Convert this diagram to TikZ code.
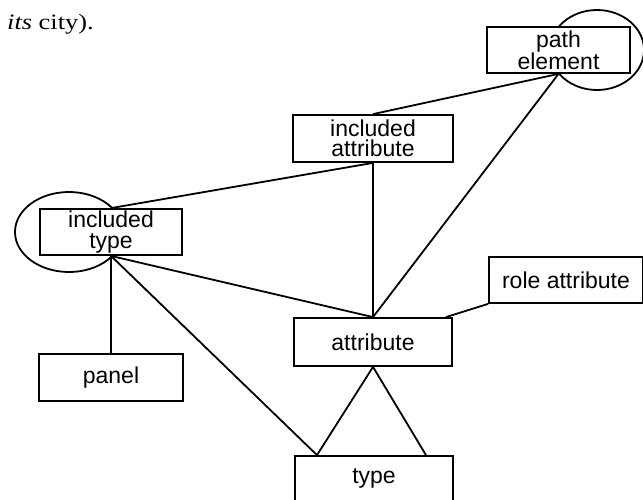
\documentclass[tikz,border=0pt]{standalone}
\usepackage{fontspec}
\usepackage{graphicx}
\setmainfont{Liberation Serif}
\newfontfamily\labelfont{Liberation Sans}
\usetikzlibrary{calc}
\tikzset{
  box/.style={draw, fill=white, line width=1.8pt, inner sep=0pt, align=center,
    font=\labelfont\fontsize{23}{20.5}\selectfont},
  link/.style={line width=1.8pt},
  loopring/.style={line width=1.8pt},
}
\begin{document}
\begin{tikzpicture}[x=1pt,y=-1pt]
\useasboundingbox (0,0) rectangle (643,499);
\clip (0,0) rectangle (643,499);
\node[anchor=base west, inner sep=0pt, font=\fontsize{22}{26}\selectfont] (cap) at (7,29) {\scalebox{1.2}[1]{\textit{its} city).}};
% self-loops
\draw[loopring] (69,232) ellipse [x radius=54, y radius=40];
\draw[loopring] (597,50) ellipse [x radius=47, y radius=40];
% boxes
\node[box, minimum width=143pt, minimum height=46pt] (pe) at (558.5,50) {path\\element};
\node[box, minimum width=160pt, minimum height=47pt] (ia) at (373,138.5) {included\\attribute};
\node[box, minimum width=142pt, minimum height=46pt] (it) at (111,232) {included\\type};
\node[box, minimum width=158pt, minimum height=48pt] (at) at (373,342) {attribute};
\node[box, minimum width=154pt, minimum height=46pt] (ra) at (566,280) {role attribute};
\node[box, minimum width=144pt, minimum height=47pt] (pa) at (111,377.5) {panel};
\node[box, minimum width=158pt, minimum height=46pt] (ty) at (374,479) {\strut type};
% attachment points on type box
\coordinate (tyl) at ($(ty.north)+(-57,0)$);
\coordinate (tyr) at ($(ty.north)+(52,0)$);
\coordinate (atr) at ($(at.north east)+(-7,0)$);
% connectors
\draw[link] (pe.south) -- (ia.north);
\draw[link] (pe.south) -- (at.north);
\draw[link] (ia.south) -- (it.north);
\draw[link] (ia.south) -- (at.north);
\draw[link] (it.south) -- (at.north);
\draw[link] (it.south) -- (pa.north);
\draw[link] (it.south) -- (tyl);
\draw[link] (at.south) -- (tyl);
\draw[link] (at.south) -- (tyr);
\draw[link] (ra.south west) -- (atr);
\end{tikzpicture}
\end{document}
